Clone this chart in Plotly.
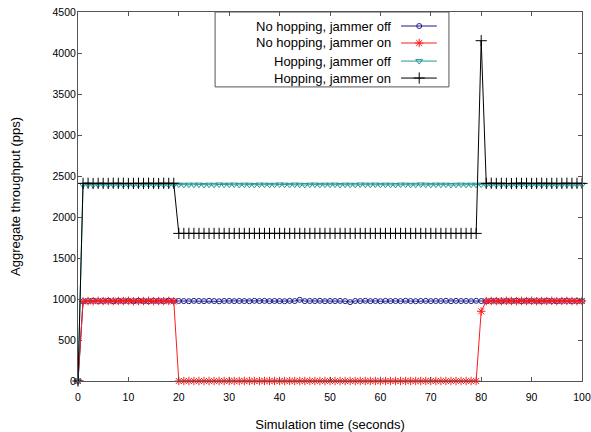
import plotly.graph_objects as go

# ---------------- data ----------------
time_s = list(range(0, 101))

series_names = ["No hopping, jammer off", "No hopping, jammer on",
                "Hopping, jammer off", "Hopping, jammer on"]

nohop_off = [0,
    972, 975, 978, 974, 976, 979, 973, 977, 975, 976,
    974, 978, 975, 973, 977, 976, 974, 979, 975, 976,
    975, 973, 977, 976, 974, 978, 975, 972, 976, 977,
    974, 976, 975, 973, 978, 975, 977, 974, 976, 975,
    973, 977, 975, 990, 974, 976, 975, 978, 973, 976,
    975, 977, 974, 962, 976, 975, 978, 974, 976, 973,
    977, 975, 976, 974, 978, 975, 973, 976, 977, 974,
    976, 975, 978, 973, 977, 975, 976, 974, 978, 975,
    973, 976, 977, 974, 976, 975, 978, 973, 977, 975,
    976, 974, 978, 975, 973, 976, 977, 974, 976, 975]

nohop_on = [0,
    970, 975, 972, 978, 974, 976, 973, 977, 975, 980,
    972, 976, 974, 978, 973, 976, 975, 977, 972, 0,
    0, 0, 0, 0, 0, 0, 0, 0, 0, 0,
    0, 0, 0, 0, 0, 0, 0, 0, 0, 0,
    0, 0, 0, 0, 0, 0, 0, 0, 0, 0,
    0, 0, 0, 0, 0, 0, 0, 0, 0, 0,
    0, 0, 0, 0, 0, 0, 0, 0, 0, 0,
    0, 0, 0, 0, 0, 0, 0, 0, 0, 850,
    974, 977, 975, 973, 978, 976, 974, 977, 975, 979,
    973, 976, 975, 978, 974, 976, 977, 975, 973, 976]

hop_off = [0,
    2392, 2395, 2390, 2394, 2396, 2391, 2393, 2395, 2392, 2394,
    2393, 2391, 2395, 2394, 2392, 2396, 2393, 2391, 2394, 2395,
    2392, 2394, 2393, 2395, 2391, 2394, 2392, 2396, 2393, 2394,
    2395, 2392, 2394, 2393, 2391, 2395, 2394, 2392, 2393, 2396,
    2394, 2392, 2395, 2393, 2391, 2394, 2395, 2392, 2394, 2393,
    2395, 2391, 2394, 2393, 2392, 2396, 2394, 2393, 2395, 2392,
    2394, 2393, 2391, 2395, 2394, 2392, 2393, 2396, 2394, 2392,
    2395, 2393, 2394, 2391, 2393, 2395, 2392, 2394, 2393, 2395,
    2392, 2394, 2393, 2395, 2391, 2394, 2392, 2396, 2393, 2394,
    2395, 2392, 2394, 2393, 2391, 2395, 2394, 2392, 2393, 2394]

hop_on = [0,
    2410, 2412, 2408, 2411, 2410, 2409, 2412, 2410, 2411, 2408,
    2410, 2412, 2409, 2411, 2410, 2408, 2412, 2410, 2411, 1800,
    1800, 1800, 1800, 1800, 1800, 1800, 1800, 1800, 1800, 1800,
    1800, 1800, 1800, 1800, 1800, 1800, 1800, 1800, 1800, 1800,
    1800, 1800, 1800, 1800, 1800, 1800, 1800, 1800, 1800, 1800,
    1800, 1800, 1800, 1800, 1800, 1800, 1800, 1800, 1800, 1800,
    1800, 1800, 1800, 1800, 1800, 1800, 1800, 1800, 1800, 1800,
    1800, 1800, 1800, 1800, 1800, 1800, 1800, 1800, 1800, 4150,
    2410, 2412, 2409, 2411, 2410, 2408, 2412, 2410, 2411, 2409,
    2410, 2412, 2408, 2411, 2410, 2409, 2412, 2410, 2411, 2410]

x_ticks = [0, 10, 20, 30, 40, 50, 60, 70, 80, 90, 100]
y_ticks = [0, 500, 1000, 1500, 2000, 2500, 3000, 3500, 4000, 4500]

# ---------------- styles ----------------
colors = ["#1a1a8a", "#ff1a1a", "#239696", "#000000"]
symbols = ["circle-open", "asterisk-open", "triangle-down-open", "cross-thin-open"]
msizes = [5, 7, 6, 8]
all_series = [nohop_off, nohop_on, hop_off, hop_on]

FONT = "Liberation Sans, Arial, sans-serif"

fig = go.Figure()
for name, ys, c, s, ms in zip(series_names, all_series, colors, symbols, msizes):
    fig.add_trace(go.Scatter(
        x=time_s, y=ys, mode="lines+markers", name=name,
        line=dict(color=c, width=1),
        marker=dict(symbol=s, size=ms, color=c, line=dict(color=c, width=1)),
        cliponaxis=False, showlegend=False,
    ))

# ---------------- custom legend (symbols right of text) ----------------
leg_rows_y = [0.962, 0.916, 0.867, 0.821]
x_line0, x_line1, x_mark = 0.641, 0.712, 0.677
for name, c, s, ms, ly in zip(series_names, colors, symbols, msizes, leg_rows_y):
    fig.add_trace(go.Scatter(
        x=[x_line0, x_line1], y=[ly, ly], mode="lines",
        line=dict(color=c, width=1), xaxis="x2", yaxis="y2",
        showlegend=False, hoverinfo="skip", cliponaxis=False))
    fig.add_trace(go.Scatter(
        x=[x_mark], y=[ly], mode="markers",
        marker=dict(symbol=s, size=ms, color=c, line=dict(color=c, width=1)),
        xaxis="x2", yaxis="y2", showlegend=False, hoverinfo="skip", cliponaxis=False))
    fig.add_annotation(x=0.625, y=ly, xref="paper", yref="paper", text=name,
                       showarrow=False, xanchor="right", yanchor="middle",
                       font=dict(family=FONT, size=13, color="#000000"))

fig.add_shape(type="rect", xref="paper", yref="paper",
              x0=0.272, x1=0.736, y0=0.797, y1=1.0,
              line=dict(color="#555555", width=1), fillcolor="rgba(0,0,0,0)")

axis_common = dict(showline=True, linecolor="#555555", linewidth=1, mirror="ticks",
                   ticks="inside", ticklen=4, tickcolor="#555555", showgrid=False,
                   zeroline=False, automargin=False,
                   tickfont=dict(family=FONT, size=10.5, color="#000000"))

fig.update_layout(
    width=591, height=432,
    margin=dict(l=78, r=9, t=12, b=51),
    paper_bgcolor="white", plot_bgcolor="white",
    font=dict(family=FONT, color="#000000"),
    xaxis=dict(range=[0, 100], tickvals=x_ticks, ticktext=[str(v) for v in x_ticks],
               ticklabelstandoff=6,
               title=dict(text="Simulation time (seconds)", font=dict(size=13), standoff=18),
               **axis_common),
    yaxis=dict(range=[0, 4500], tickvals=y_ticks, ticktext=[str(v) for v in y_ticks],
               ticklabelstandoff=-1,
               title=dict(text="Aggregate throughput (pps)", font=dict(size=13), standoff=28),
               **axis_common),
    xaxis2=dict(domain=[0, 1], range=[0, 1], overlaying="x", visible=False, fixedrange=True),
    yaxis2=dict(domain=[0, 1], range=[0, 1], overlaying="y", visible=False, fixedrange=True),
    showlegend=False,
)

fig.write_html("out.html", config={"displayModeBar": False},
               post_script="document.body.style.margin='0px';")
